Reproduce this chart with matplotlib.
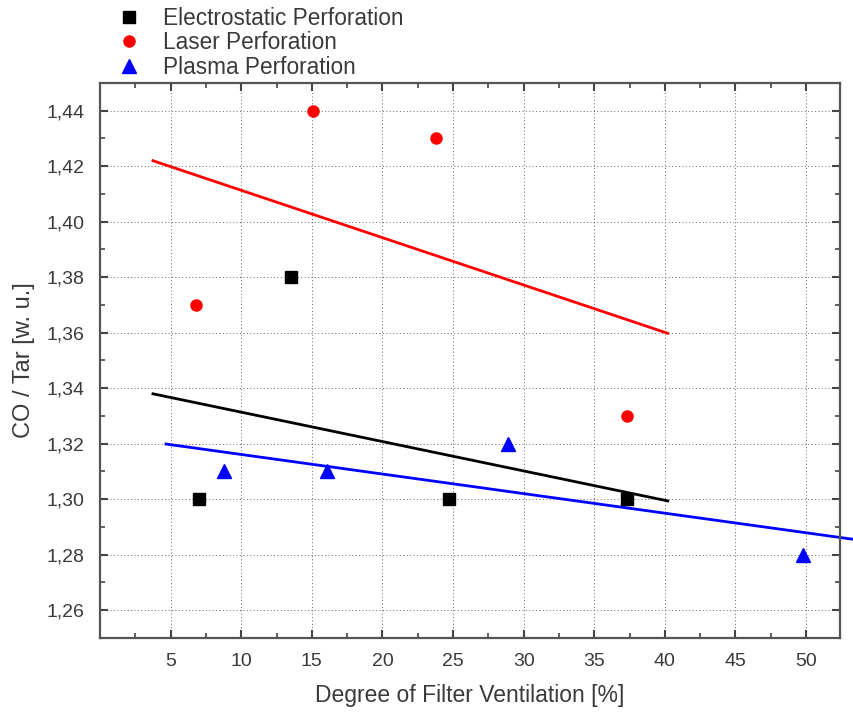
import numpy as np
from matplotlib import pyplot as plt
from matplotlib.ticker import MultipleLocator

plt.rcParams['font.family'] = ['Liberation Sans', 'DejaVu Sans']

# measured points
elec_x = [7.0, 13.5, 24.7, 37.3]
elec_y = [1.30, 1.38, 1.30, 1.30]
laser_x = [6.8, 15.1, 23.8, 37.3]
laser_y = [1.37, 1.44, 1.43, 1.33]
plasma_x = [8.8, 16.1, 28.9, 49.8]
plasma_y = [1.31, 1.31, 1.32, 1.28]

# linear fit lines, end points
elec_fit_x = [3.75, 40.2]
elec_fit_y = [1.338, 1.2994]
laser_fit_x = [3.75, 40.2]
laser_fit_y = [1.422, 1.3598]
plasma_fit_x = [4.67, 54.0]
plasma_fit_y = [1.3199, 1.2851]

txtc = '#3a3a3a'
fts = 14

fig = plt.figure(figsize=(8.54, 7.12), dpi=100)
ax = fig.add_axes([100/854., 74/712., 740/854., 555/712.])

ax.plot(elec_fit_x, elec_fit_y, '-', color='k', lw=2)
ax.plot(laser_fit_x, laser_fit_y, '-', color='#ff0000', lw=2)
ax.plot(plasma_fit_x, plasma_fit_y, '-', color='#0000ff', lw=2, clip_on=False)

ax.plot(elec_x, elec_y, 's', color='k', ms=8, label='Electrostatic Perforation')
ax.plot(laser_x, laser_y, 'o', color='#ff0000', ms=8, label='Laser Perforation')
ax.plot(plasma_x, plasma_y, '^', color='#0000ff', ms=10, label='Plasma Perforation')

ax.set_xlim(0, 52.4)
ax.set_ylim(1.25, 1.45)
ax.xaxis.set_minor_locator(MultipleLocator(2.5))
ax.yaxis.set_minor_locator(MultipleLocator(0.01))
ax.set_xticks(np.arange(5, 51, 5))
ax.set_yticks(np.arange(1.26, 1.445, 0.02))
ax.yaxis.set_major_formatter(plt.FuncFormatter(lambda v, p: ('%.2f' % v).replace('.', ',')))

ax.grid(True, which='major', color='#666666', linestyle=(0, (1, 2.5)), lw=0.7)
ax.set_axisbelow(True)

ax.tick_params(which='both', direction='in', top=True, right=True, colors='#444444',
               labelcolor=txtc, labelsize=fts)
ax.tick_params(which='major', length=6, width=1.5, pad=11)
ax.tick_params(which='minor', length=3.5, width=1.2)

for axis in ['top', 'bottom', 'left', 'right']:
    ax.spines[axis].set_linewidth(1.6)
    ax.spines[axis].set_color('#555555')

ax.set_xlabel('Degree of Filter Ventilation [%]', fontsize=16.5, color=txtc, labelpad=10)
ax.set_ylabel('CO / Tar [w. u.]', fontsize=17, color=txtc, labelpad=8)

fig.legend(loc='upper left', bbox_to_anchor=(118/854., 1 - 7/712.), frameon=False,
           fontsize=16.3, handlelength=1.0, handletextpad=1.0, labelspacing=0.06,
           borderpad=0, borderaxespad=0, labelcolor=txtc)

fig.savefig('out.png', dpi=100)
